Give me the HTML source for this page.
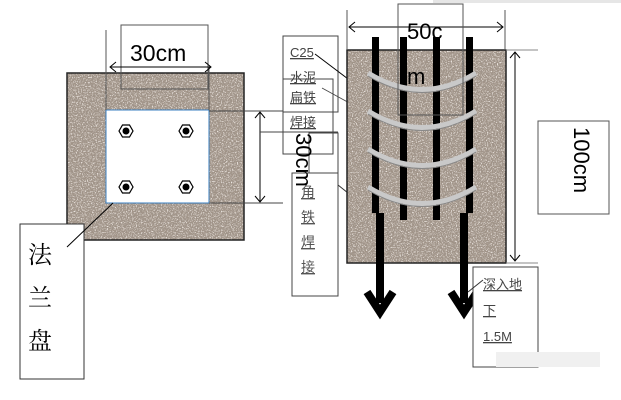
<!DOCTYPE html>
<html><head><meta charset="utf-8"><style>
html,body{margin:0;padding:0;background:#fff;}
svg{display:block}
text{font-family:"Liberation Sans","Noto Sans CJK SC",sans-serif;}
.cj{font-family:"Noto Serif CJK SC","Noto Sans CJK SC",serif;}
</style></head><body>
<svg width="621" height="400" viewBox="0 0 621 400" xmlns="http://www.w3.org/2000/svg">
<defs>
<filter id="n" x="0" y="0" width="100%" height="100%">
<feTurbulence type="fractalNoise" baseFrequency="0.8" numOctaves="2" seed="3"/>
<feColorMatrix type="matrix" values="0 0 0 0 0.85  0 0 0 0 0.8  0 0 0 0 0.76  0 0 0 -4 2.1"/>
</filter>
<filter id="n2" x="0" y="0" width="100%" height="100%">
<feTurbulence type="fractalNoise" baseFrequency="0.7" numOctaves="2" seed="9"/>
<feColorMatrix type="matrix" values="0 0 0 0 0.35  0 0 0 0 0.3  0 0 0 0 0.26  0 0 0 4 -1.9"/>
</filter>
</defs>
<rect x="433" y="0" width="188" height="3" fill="#e6e6e6"/>

<!-- left square -->
<rect x="67" y="73" width="177" height="167" fill="#a09387"/>
<rect x="67" y="73" width="177" height="167" filter="url(#n)"/>
<rect x="67" y="73" width="177" height="167" filter="url(#n2)"/>
<rect x="67" y="73" width="177" height="167" fill="none" stroke="#222" stroke-width="1.5"/>
<rect x="106" y="110" width="103" height="93" fill="#fff" stroke="#3a7fc0" stroke-width="1"/>
<g fill="#fff" stroke="#000" stroke-width="1.2">
<polygon points="119,131 122.5,125 129.5,125 133,131 129.5,137 122.5,137"/>
<polygon points="179,131 182.5,125 189.5,125 193,131 189.5,137 182.5,137"/>
<polygon points="119,187 122.5,181 129.5,181 133,187 129.5,193 122.5,193"/>
<polygon points="179,187 182.5,181 189.5,181 193,187 189.5,193 182.5,193"/>
</g>
<g fill="#000"><circle cx="126" cy="131" r="3.5"/><circle cx="186" cy="131" r="3.5"/><circle cx="126" cy="187" r="3.5"/><circle cx="186" cy="187" r="3.5"/></g>
<!-- 30cm top -->
<rect x="121" y="25" width="87" height="64" fill="none" stroke="#555"/>
<text x="130" y="61" font-size="23">30cm</text>
<line x1="106" y1="30" x2="106" y2="110" stroke="#555"/>
<line x1="209" y1="67" x2="209" y2="110" stroke="#555"/>
<line x1="110" y1="67" x2="211" y2="67" stroke="#000"/>
<polyline points="116,62 110,67 116,72" fill="none" stroke="#000"/>
<polyline points="205,62 211,67 205,72" fill="none" stroke="#000"/>
<!-- 法兰盘 -->
<rect x="20" y="224" width="64" height="155" fill="#fff" stroke="#333"/>
<line x1="67" y1="247" x2="113" y2="203" stroke="#000"/>
<text class="cj" x="28" y="263" font-size="24">法</text>
<text class="cj" x="28" y="306" font-size="24">兰</text>
<text class="cj" x="28" y="349" font-size="24">盘</text>

<!-- 30cm vertical -->
<line x1="209" y1="111" x2="283" y2="111" stroke="#444"/>
<line x1="209" y1="203" x2="283" y2="203" stroke="#444"/>
<line x1="260" y1="112" x2="260" y2="202" stroke="#000"/>
<polyline points="255,118 260,112 265,118" fill="none" stroke="#000"/>
<polyline points="255,196 260,202 265,196" fill="none" stroke="#000"/>
<rect x="283" y="36" width="55" height="76" fill="none" stroke="#444"/>
<rect x="283" y="79" width="50" height="75" fill="none" stroke="#444"/>
<line x1="260" y1="132" x2="338" y2="132" stroke="#444"/>
<rect x="309" y="133" width="29" height="62" fill="none" stroke="#444"/>
<g font-size="13" class="cj" fill="#444" text-decoration="underline">
<text x="290" y="57" font-family="Liberation Sans">C25</text>
<text x="290" y="82">水泥</text>
<text x="290" y="102">扁铁</text>
<text x="290" y="127">焊接</text>
</g>
<rect x="292" y="173" width="46" height="123" fill="#fff" stroke="#444"/>
<g font-size="14" class="cj" fill="#555" text-decoration="underline">
<text x="301" y="197">角</text><text x="301" y="222">铁</text><text x="301" y="247">焊</text><text x="301" y="272">接</text>
</g>
<text x="0" y="0" font-size="22" transform="translate(296,133) rotate(90)">30cm</text>
<line x1="315" y1="54" x2="360" y2="88" stroke="#000"/>
<polyline points="352,88 361,88 358,80" fill="none" stroke="#000"/>
<line x1="322" y1="88" x2="375" y2="117" stroke="#444" stroke-width="0.8"/>
<line x1="338" y1="185" x2="373" y2="213" stroke="#333"/>

<!-- pillar -->
<rect x="347" y="50" width="159" height="213" fill="#a09387"/>
<rect x="347" y="50" width="159" height="213" filter="url(#n)"/>
<rect x="347" y="50" width="159" height="213" filter="url(#n2)"/>
<rect x="347" y="50" width="159" height="213" fill="none" stroke="#222" stroke-width="1.5"/>
<g fill="#000">
<rect x="372" y="37" width="7" height="176"/><rect x="376" y="213" width="8" height="90"/>
<rect x="400" y="37" width="7" height="183"/>
<rect x="433" y="37" width="7" height="183"/>
<rect x="466" y="37" width="7" height="176"/><rect x="460" y="213" width="8" height="90"/>
</g>
<g fill="none" stroke="#000" stroke-width="8" stroke-linecap="butt" stroke-linejoin="miter">
<polyline points="367,292 380,312 393,292"/>
<polyline points="451,292 464,312 477,292"/>
</g>
<g fill="none" stroke="#c9c9c9" stroke-width="5">
<path d="M368,73 Q422,106 476,73"/>
<path d="M368,111 Q422,144 476,111"/>
<path d="M368,149 Q422,182 476,149"/>
<path d="M368,187 Q422,220 476,187"/>
</g>
<g fill="none" stroke="#888" stroke-width="1">
<path d="M368,76 Q422,109 476,76"/>
<path d="M368,114 Q422,147 476,114"/>
<path d="M368,152 Q422,185 476,152"/>
<path d="M368,190 Q422,223 476,190"/>
</g>
<!-- 50cm -->
<line x1="347" y1="10" x2="347" y2="50" stroke="#555"/>
<line x1="505" y1="10" x2="505" y2="50" stroke="#555"/>
<line x1="349" y1="27" x2="503" y2="27" stroke="#000"/>
<polyline points="355,22 349,27 355,32" fill="none" stroke="#000"/>
<polyline points="497,22 503,27 497,32" fill="none" stroke="#000"/>
<rect x="398" y="4" width="65" height="111" fill="none" stroke="#555"/>
<text x="407" y="39" font-size="22">50c</text>
<text x="407" y="84" font-size="22">m</text>
<!-- 100cm -->
<line x1="506" y1="50" x2="538" y2="50" stroke="#888"/>
<line x1="506" y1="263" x2="538" y2="263" stroke="#888"/>
<line x1="515" y1="52" x2="515" y2="261" stroke="#000"/>
<polyline points="510,58 515,52 520,58" fill="none" stroke="#000"/>
<polyline points="510,255 515,261 520,255" fill="none" stroke="#000"/>
<rect x="538" y="121" width="71" height="93" fill="none" stroke="#555"/>
<text x="0" y="0" font-size="22" transform="translate(574,127) rotate(90)">100cm</text>
<!-- deep -->
<rect x="473" y="267" width="65" height="100" fill="#fff" stroke="#444"/>
<line x1="468" y1="292" x2="483" y2="280" stroke="#333"/>
<g font-size="13" class="cj" fill="#444" text-decoration="underline">
<text x="483" y="289">深入地</text>
<text x="483" y="315">下</text>
<text x="483" y="341" font-family="Liberation Sans">1.5M</text>
</g>
<rect x="496" y="352" width="104" height="15" fill="#f0f0f0"/>
</svg>
</body></html>
